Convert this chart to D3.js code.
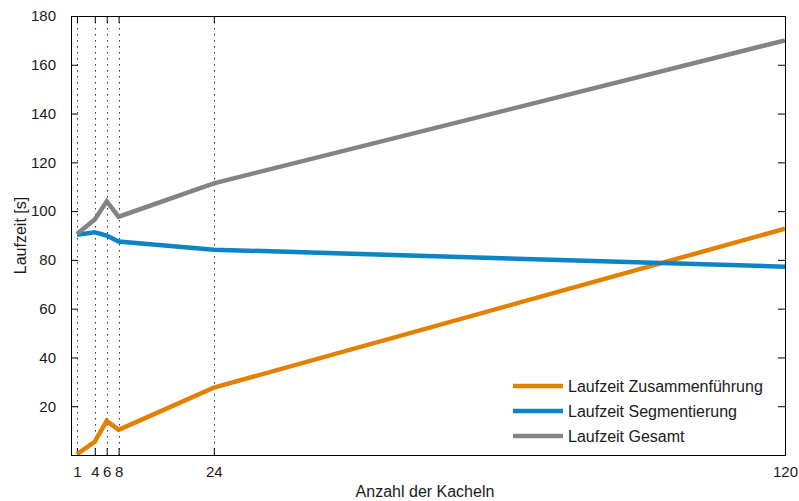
<!DOCTYPE html>
<html>
<head>
<meta charset="utf-8">
<script src="https://cdn.jsdelivr.net/npm/d3@7"></script>
<style>
  html, body { margin: 0; padding: 0; background: #fff; }
  svg { display: block; font-family: "Liberation Sans", Arial, sans-serif; }
</style>
</head>
<body>
<svg id="chart" width="799" height="501"></svg>
<script>
// number of tiles (x) and runtimes in seconds
const tiles = [1, 4, 6, 8, 24, 120];
const zusammenfuehrung = [0.3, 5.5, 14, 10.3, 27.6, 92.8];
const segmentierung = [90.3, 91.3, 90, 87.5, 84.2, 77.2];
const gesamt = [90.6, 96.6, 104, 97.7, 111.4, 170];

const xTicks = [1, 4, 6, 8, 24, 120];
const yTicks = [20, 40, 60, 80, 100, 120, 140, 160, 180];

const seriesNames = ["Laufzeit Zusammenführung", "Laufzeit Segmentierung", "Laufzeit Gesamt"];
const seriesColors = ["#e38000", "#0a84c6", "#838383"];

const series = [zusammenfuehrung, segmentierung, gesamt].map((vals, i) => ({
    name: seriesNames[i],
    color: seriesColors[i],
    points: tiles.map((t, j) => ({ x: t, y: vals[j] }))
}));

const svg = d3.select("#chart");
const margin = { top: 16, right: 14, bottom: 46, left: 71 },
    width = +svg.attr("width") - margin.left - margin.right,
    height = +svg.attr("height") - margin.top - margin.bottom,
    g = svg.append("g").attr("transform", "translate(" + margin.left + "," + margin.top + ")");

const x = d3.scaleLinear().domain([0, 120]).range([0, width]);
const y = d3.scaleLinear().domain([0, 180]).range([height, 0]);

// dotted vertical grid at the x ticks
g.append("g")
    .selectAll("line")
    .data(xTicks.filter(t => t < 120))
    .enter().append("line")
    .attr("x1", d => Math.round(x(d)) + 0.5)
    .attr("x2", d => Math.round(x(d)) + 0.5)
    .attr("y1", 0)
    .attr("y2", height)
    .attr("stroke", "#333")
    .attr("stroke-width", 1)
    .attr("stroke-dasharray", "1.5,4.5");

// axes with inward ticks on all sides
function styleAxis(sel) {
    sel.select(".domain").remove();
    sel.selectAll(".tick line").attr("stroke", "#000");
    sel.selectAll(".tick text").attr("fill", "#1a1a1a").attr("font-size", "15px").attr("font-family", "Liberation Sans, Arial, sans-serif");
}

g.append("g")
    .attr("transform", "translate(0," + height + ")")
    .call(d3.axisBottom(x).tickValues(xTicks).tickSizeInner(-7).tickSizeOuter(0).tickPadding(11).tickFormat(d3.format("d")))
    .call(styleAxis);

g.append("g")
    .call(d3.axisTop(x).tickValues(xTicks).tickSizeInner(-7).tickSizeOuter(0).tickFormat(""))
    .call(styleAxis);

g.append("g")
    .call(d3.axisLeft(y).tickValues(yTicks).tickSizeInner(-7).tickSizeOuter(0).tickPadding(15).tickFormat(d3.format("d")))
    .call(styleAxis);

g.append("g")
    .attr("transform", "translate(" + width + ",0)")
    .call(d3.axisRight(y).tickValues(yTicks).tickSizeInner(-7).tickSizeOuter(0).tickFormat(""))
    .call(styleAxis);

// lines
const line = d3.line()
    .x(d => x(d.x))
    .y(d => y(d.y));

g.append("defs").append("clipPath").attr("id", "plotClip")
    .append("rect").attr("width", width).attr("height", height);

g.append("g")
    .attr("clip-path", "url(#plotClip)")
    .selectAll("path")
    .data(series)
    .enter().append("path")
    .attr("d", s => line(s.points))
    .attr("fill", "none")
    .attr("stroke", s => s.color)
    .attr("stroke-width", 4.5);

// frame
g.append("rect")
    .attr("x", 0.5)
    .attr("y", 0.5)
    .attr("width", width)
    .attr("height", height)
    .attr("fill", "none")
    .attr("stroke", "#000")
    .attr("stroke-width", 1);

// legend (no box)
const legend = g.append("g")
    .attr("font-size", "16px")
    .selectAll("g")
    .data(series)
    .enter().append("g")
    .attr("transform", (s, i) => "translate(442," + (370 + i * 25) + ")");

legend.append("line")
    .attr("x1", 0)
    .attr("x2", 50)
    .attr("stroke", s => s.color)
    .attr("stroke-width", 4.5);

legend.append("text")
    .attr("x", 55)
    .attr("dy", "0.35em")
    .attr("fill", "#1a1a1a")
    .text(s => s.name);

// axis titles
svg.append("text")
    .attr("x", margin.left + width / 2 - 3)
    .attr("y", 497)
    .attr("text-anchor", "middle")
    .attr("font-size", "16px")
    .attr("fill", "#1a1a1a")
    .text("Anzahl der Kacheln");

svg.append("text")
    .attr("transform", "translate(26," + (margin.top + height / 2) + ") rotate(-90)")
    .attr("text-anchor", "middle")
    .attr("font-size", "16px")
    .attr("fill", "#1a1a1a")
    .text("Laufzeit [s]");
</script>
</body>
</html>
